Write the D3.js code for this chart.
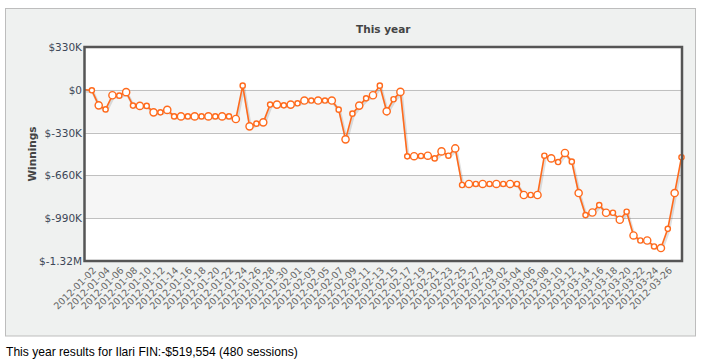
<!DOCTYPE html>
<html><head><meta charset="utf-8">
<script src="https://cdn.jsdelivr.net/npm/d3@7"></script>
<style>
html,body{margin:0;padding:0;background:#fff;}
svg{display:block;}
</style></head>
<body>
<svg id="c" width="702" height="363"></svg>
<script>
const dates = [
"2012-01-01","2012-01-02","2012-01-03","2012-01-04","2012-01-05","2012-01-06","2012-01-07","2012-01-08","2012-01-09","2012-01-10",
"2012-01-11","2012-01-12","2012-01-13","2012-01-14","2012-01-15","2012-01-16","2012-01-17","2012-01-18","2012-01-19","2012-01-20",
"2012-01-21","2012-01-22","2012-01-23","2012-01-24","2012-01-25","2012-01-26","2012-01-27","2012-01-28","2012-01-29","2012-01-30",
"2012-01-31","2012-02-01","2012-02-02","2012-02-03","2012-02-04","2012-02-05","2012-02-06","2012-02-07","2012-02-08","2012-02-09",
"2012-02-10","2012-02-11","2012-02-12","2012-02-13","2012-02-14","2012-02-15","2012-02-16","2012-02-17","2012-02-18","2012-02-19",
"2012-02-20","2012-02-21","2012-02-22","2012-02-23","2012-02-24","2012-02-25","2012-02-26","2012-02-27","2012-02-28","2012-02-29",
"2012-03-01","2012-03-02","2012-03-03","2012-03-04","2012-03-05","2012-03-06","2012-03-07","2012-03-08","2012-03-09","2012-03-10",
"2012-03-11","2012-03-12","2012-03-13","2012-03-14","2012-03-15","2012-03-16","2012-03-17","2012-03-18","2012-03-19","2012-03-20",
"2012-03-21","2012-03-22","2012-03-23","2012-03-24","2012-03-25","2012-03-26","2012-03-27","2012-03-28"];

const winnings = [
0,-4000,-120000,-151000,-42000,-45000,-18000,-122000,-124000,-124000,
-174000,-174000,-155000,-205000,-205000,-205000,-205000,-205000,-205000,-205000,
-205000,-205000,-225000,32000,-282000,-261000,-251000,-114000,-114000,-120000,
-114000,-104000,-83000,-83000,-83000,-83000,-83000,-153000,-382000,-184000,
-122000,-66000,-42000,32000,-166000,-73000,-16000,-513000,-512000,-510000,
-508000,-529000,-475000,-508000,-452000,-734000,-726000,-726000,-726000,-726000,
-726000,-726000,-726000,-726000,-811000,-811000,-811000,-508000,-529000,-557000,
-487000,-554000,-796000,-966000,-946000,-889000,-948000,-948000,-1002000,-940000,
-1123000,-1162000,-1162000,-1208000,-1220000,-1072000,-796000,-519554];

const xTickLabels = [
"2012-01-02","2012-01-04","2012-01-06","2012-01-08","2012-01-10","2012-01-12","2012-01-14","2012-01-16","2012-01-18","2012-01-20",
"2012-01-22","2012-01-24","2012-01-26","2012-01-28","2012-01-30","2012-02-01","2012-02-03","2012-02-05","2012-02-07","2012-02-09",
"2012-02-11","2012-02-13","2012-02-15","2012-02-17","2012-02-19","2012-02-21","2012-02-23","2012-02-25","2012-02-27","2012-02-29",
"2012-03-02","2012-03-04","2012-03-06","2012-03-08","2012-03-10","2012-03-12","2012-03-14","2012-03-16","2012-03-18","2012-03-20",
"2012-03-22","2012-03-24","2012-03-26"];

const yTickValues = [330000, 0, -330000, -660000, -990000, -1320000];
const yTickLabels = ["$330K", "$0", "$-330K", "$-660K", "$-990K", "$-1.32M"];

const chartTitle = "This year";
const yTitle = "Winnings";
const footer = "This year results for Ilari FIN:-$519,554 (480 sessions)";

const svg = d3.select("#c");
const L = 84.5, R = 682, T = 47, B = 261;
const orange = "#ff6a1c";

// outer panel
svg.append("rect").attr("x",5.5).attr("y",8.5).attr("width",690).attr("height",327.5)
  .attr("fill","#eff1f0").attr("stroke","#bdbdbd").attr("stroke-width",1);

const x = d3.scalePoint().domain(dates).range([L+0.5, R-0.5]).padding(0);
const y = d3.scaleLinear().domain([-1320000, 330000]).range([B, T]);

// plot background
svg.append("rect").attr("x",L).attr("y",T).attr("width",R-L).attr("height",B-T).attr("fill","#fff");
// alternating bands
for (let i = 0; i < yTickValues.length - 1; i++) {
  if (i % 2 === 1) {
    const y1 = y(yTickValues[i]), y2 = y(yTickValues[i+1]);
    svg.append("rect").attr("x",L).attr("y",y1).attr("width",R-L).attr("height",y2-y1).attr("fill","#f6f6f6");
  }
}
// gridlines
svg.append("g").selectAll("line").data(yTickValues.slice(1,-1)).join("line")
  .attr("x1",L).attr("x2",R).attr("y1",d=>Math.round(y(d))+0.5).attr("y2",d=>Math.round(y(d))+0.5)
  .attr("stroke","#c0c0c0").attr("stroke-width",1);

// y labels
svg.append("g").selectAll("text").data(yTickValues).join("text")
  .attr("x",82).attr("y",d=>y(d)+4)
  .attr("text-anchor","end")
  .attr("font-family","'DejaVu Sans', Verdana, sans-serif").attr("font-size","10.5px").attr("fill","#3d4757")
  .text((d,i)=>yTickLabels[i]);

// line
const line = d3.line().x((d,i)=>x(dates[i])).y(d=>y(d));
svg.append("path").datum(winnings).attr("d",line).attr("fill","none")
  .attr("stroke","rgba(0,0,0,0.12)").attr("stroke-width",3).attr("transform","translate(1,1.5)");
svg.append("path").datum(winnings).attr("d",line).attr("fill","none")
  .attr("stroke",orange).attr("stroke-width",1.6).attr("stroke-linejoin","round");

// markers
svg.append("g").selectAll("circle").data(winnings.slice(1)).join("circle")
  .attr("cx",(d,i)=>x(dates[i+1])).attr("cy",d=>y(d))
  .attr("r",(d,i)=>((i+1)%2===0)?3.6:2.6)
  .attr("fill","#fff").attr("stroke",orange).attr("stroke-width",1.4);

// plot border
svg.append("rect").attr("x",L).attr("y",T).attr("width",R-L).attr("height",B-T)
  .attr("fill","none").attr("stroke","#555").attr("stroke-width",2.5);

// x labels
svg.append("g").selectAll("text").data(xTickLabels).join("text")
  .attr("transform",d=>`translate(${x(d)+5},${271}) rotate(-45)`)
  .attr("text-anchor","end")
  .attr("font-family","'DejaVu Sans', Verdana, sans-serif").attr("font-size","9.5px").attr("fill","#666")
  .text(d=>d);

// titles
svg.append("text").attr("x",(L+R)/2).attr("y",33).attr("text-anchor","middle")
  .attr("font-family","'DejaVu Sans', Verdana, sans-serif").attr("font-weight","bold").attr("font-size","10.5px").attr("fill","#444")
  .text(chartTitle);
svg.append("text").attr("transform",`translate(36,${(T+B)/2}) rotate(-90)`).attr("text-anchor","middle")
  .attr("font-family","'DejaVu Sans', Verdana, sans-serif").attr("font-weight","bold").attr("font-size","10.5px").attr("fill","#444")
  .text(yTitle);

svg.append("text").attr("x",6).attr("y",356)
  .attr("font-family","'Liberation Sans', Arial, sans-serif").attr("font-size","12.1px").attr("fill","#000")
  .text(footer);
</script>
</body></html>
